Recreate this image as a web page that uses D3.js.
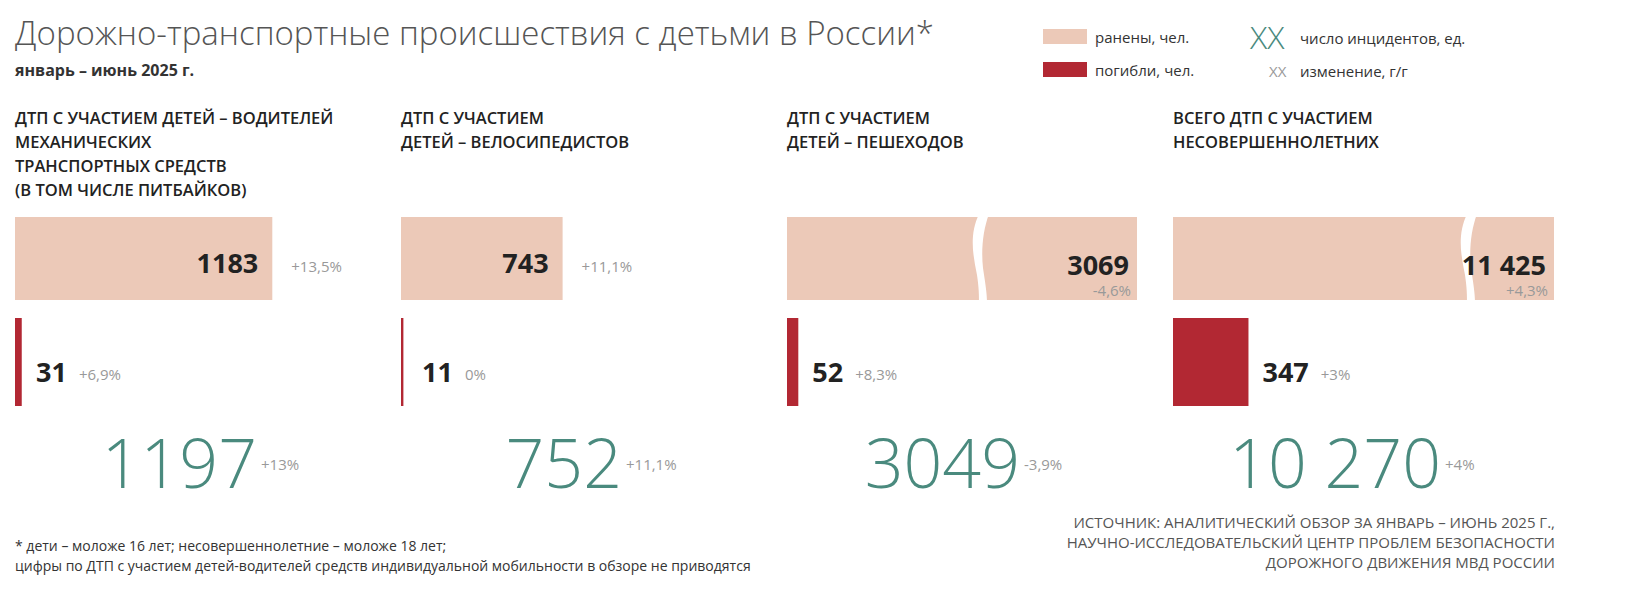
<!DOCTYPE html>
<html><head><meta charset="utf-8">
<script src="https://cdn.jsdelivr.net/npm/d3@7"></script>
<style>body{margin:0;background:#fff}text{font-family:"Open Sans",sans-serif}</style>
</head><body>
<svg id="chart" width="1632" height="605"></svg>
<script>
const titles = [
  ['ДТП С УЧАСТИЕМ ДЕТЕЙ – ВОДИТЕЛЕЙ', 'МЕХАНИЧЕСКИХ', 'ТРАНСПОРТНЫХ СРЕДСТВ', '(В ТОМ ЧИСЛЕ ПИТБАЙКОВ)'],
  ['ДТП С УЧАСТИЕМ', 'ДЕТЕЙ – ВЕЛОСИПЕДИСТОВ'],
  ['ДТП С УЧАСТИЕМ', 'ДЕТЕЙ – ПЕШЕХОДОВ'],
  ['ВСЕГО ДТП С УЧАСТИЕМ', 'НЕСОВЕРШЕННОЛЕТНИХ']
];
const injured = [1183, 743, 3069, 11425];
const injuredLabel = ['1183', '743', '3069', '11 425'];
const injuredChange = ['+13,5%', '+11,1%', '-4,6%', '+4,3%'];
const killed = [31, 11, 52, 347];
const killedChange = ['+6,9%', '0%', '+8,3%', '+3%'];
const incidents = ['1197', '752', '3049', '10 270'];
const incidentChange = ['+13%', '+11,1%', '-3,9%', '+4%'];
const panelX = [15, 401, 787, 1173];
const maxShown = [null, null, 350, 381]; // broken bars
const breakAt = [null, null, 188, 290];

const svg = d3.select('#chart');
const x = d3.scaleLinear().domain([0, 1000]).range([0, 217.5]);
const pink = '#ecc9b8', red = '#b22833', teal = '#4a8a7e', grey = '#999';
const numFont = '"Liberation Sans Narrow","DejaVu Sans Condensed",sans-serif';

svg.append('text').attr('x', 15).attr('y', 45).attr('font-size', 33).attr('font-weight', 300)
  .attr('fill', '#555').text('Дорожно-транспортные происшествия с детьми в России*');
svg.append('text').attr('x', 15).attr('y', 76).attr('font-size', 16).attr('font-weight', 700)
  .attr('fill', '#333').text('январь – июнь 2025 г.');

// legend
svg.append('rect').attr('x', 1043).attr('y', 29).attr('width', 44).attr('height', 15).attr('fill', pink);
svg.append('rect').attr('x', 1043).attr('y', 62).attr('width', 44).attr('height', 15).attr('fill', red);
svg.append('text').attr('x', 1095).attr('y', 43).attr('font-size', 15).attr('fill', '#333').text('ранены, чел.');
svg.append('text').attr('x', 1095).attr('y', 76).attr('font-size', 15).attr('fill', '#333').text('погибли, чел.');
svg.append('text').attr('x', 1250).attr('y', 49).attr('font-size', 32).attr('font-weight', 300).attr('fill', teal).text('XX');
svg.append('text').attr('x', 1269).attr('y', 77).attr('font-size', 15).attr('fill', grey).text('XX');
svg.append('text').attr('x', 1300).attr('y', 44).attr('font-size', 15).attr('fill', '#333').text('число инцидентов, ед.');
svg.append('text').attr('x', 1300).attr('y', 77).attr('font-size', 15).attr('fill', '#333').text('изменение, г/г');

const panels = svg.selectAll('g.panel').data(d3.range(4)).enter().append('g')
  .attr('class', 'panel').attr('transform', i => `translate(${panelX[i]},0)`);

panels.each(function (i) {
  const g = d3.select(this);
  g.append('text').attr('font-size', 16.5).attr('font-weight', 600).attr('fill', '#222')
    .selectAll('tspan').data(titles[i]).enter().append('tspan')
    .attr('x', 0).attr('y', (d, k) => 124 + k * 24).text(d => d);

  const broken = maxShown[i] !== null;
  const w = broken ? maxShown[i] : x(injured[i]);
  g.append('rect').attr('x', 0).attr('y', 217).attr('width', w).attr('height', 83).attr('fill', pink);
  if (broken) {
    const bx = breakAt[i];
    const p = `M${bx + 4},214 C${bx - 6},235 ${bx - 2},255 ${bx + 2},275 C${bx + 4},288 ${bx + 4},296 ${bx + 4},303 ` +
      `L${bx + 12},303 C${bx + 12},292 ${bx + 10},282 ${bx + 8},268 C${bx + 6},250 ${bx + 8},230 ${bx + 14},214 Z`;
    g.append('path').attr('d', p).attr('fill', '#fff');
    g.append('text').attr('x', w - 8).attr('y', 275).attr('text-anchor', 'end').attr('font-size', 27)
      .attr('font-weight', 700).attr('font-family', numFont).attr('fill', '#222').text(injuredLabel[i]);
    g.append('text').attr('x', w - 6).attr('y', 296).attr('text-anchor', 'end').attr('font-size', 15)
      .attr('font-family', numFont).attr('fill', grey).text(injuredChange[i]);
  } else {
    g.append('text').attr('x', w - 14).attr('y', 273).attr('text-anchor', 'end').attr('font-size', 27)
      .attr('font-weight', 700).attr('font-family', numFont).attr('fill', '#222').text(injuredLabel[i]);
    g.append('text').attr('x', w + 19).attr('y', 272).attr('font-size', 15)
      .attr('font-family', numFont).attr('fill', grey).text(injuredChange[i]);
  }

  const kw = Math.max(2, x(killed[i]));
  g.append('rect').attr('x', 0).attr('y', 318).attr('width', kw).attr('height', 88).attr('fill', red);
  const lx = Math.max(kw, 7) + 14;
  const num = g.append('text').attr('x', lx).attr('y', 382).attr('font-size', 27).attr('font-weight', 700)
    .attr('font-family', numFont).attr('fill', '#222').text(killed[i]);
  const nw = num.node().getComputedTextLength();
  g.append('text').attr('x', lx + nw + 12).attr('y', 380).attr('font-size', 15)
    .attr('font-family', numFont).attr('fill', grey).text(killedChange[i]);

  const big = g.append('text').attr('y', 488).attr('font-size', 68).attr('font-weight', 300)
    .attr('fill', teal).text(incidents[i]);
  const bw = big.node().getComputedTextLength();
  const ends = [242, 221, 233, 268];
  big.attr('x', ends[i] - bw);
  g.append('text').attr('x', ends[i] + 4).attr('y', 470).attr('font-size', 15)
    .attr('font-family', numFont).attr('fill', grey).text(incidentChange[i]);
});

svg.append('text').attr('font-size', 14).attr('fill', '#333').selectAll('tspan')
  .data(['* дети – моложе 16 лет; несовершеннолетние – моложе 18 лет;',
         'цифры по ДТП с участием детей-водителей средств индивидуальной мобильности в обзоре не приводятся'])
  .enter().append('tspan').attr('x', 15).attr('y', (d, k) => 551 + k * 20).text(d => d);
svg.append('text').attr('font-size', 15).attr('fill', '#555').attr('text-anchor', 'end').selectAll('tspan')
  .data(['ИСТОЧНИК: АНАЛИТИЧЕСКИЙ ОБЗОР ЗА ЯНВАРЬ – ИЮНЬ 2025 Г.,',
         'НАУЧНО-ИССЛЕДОВАТЕЛЬСКИЙ ЦЕНТР ПРОБЛЕМ БЕЗОПАСНОСТИ',
         'ДОРОЖНОГО ДВИЖЕНИЯ МВД РОССИИ'])
  .enter().append('tspan').attr('x', 1555).attr('y', (d, k) => 528 + k * 20).text(d => d);
</script>
</body></html>
